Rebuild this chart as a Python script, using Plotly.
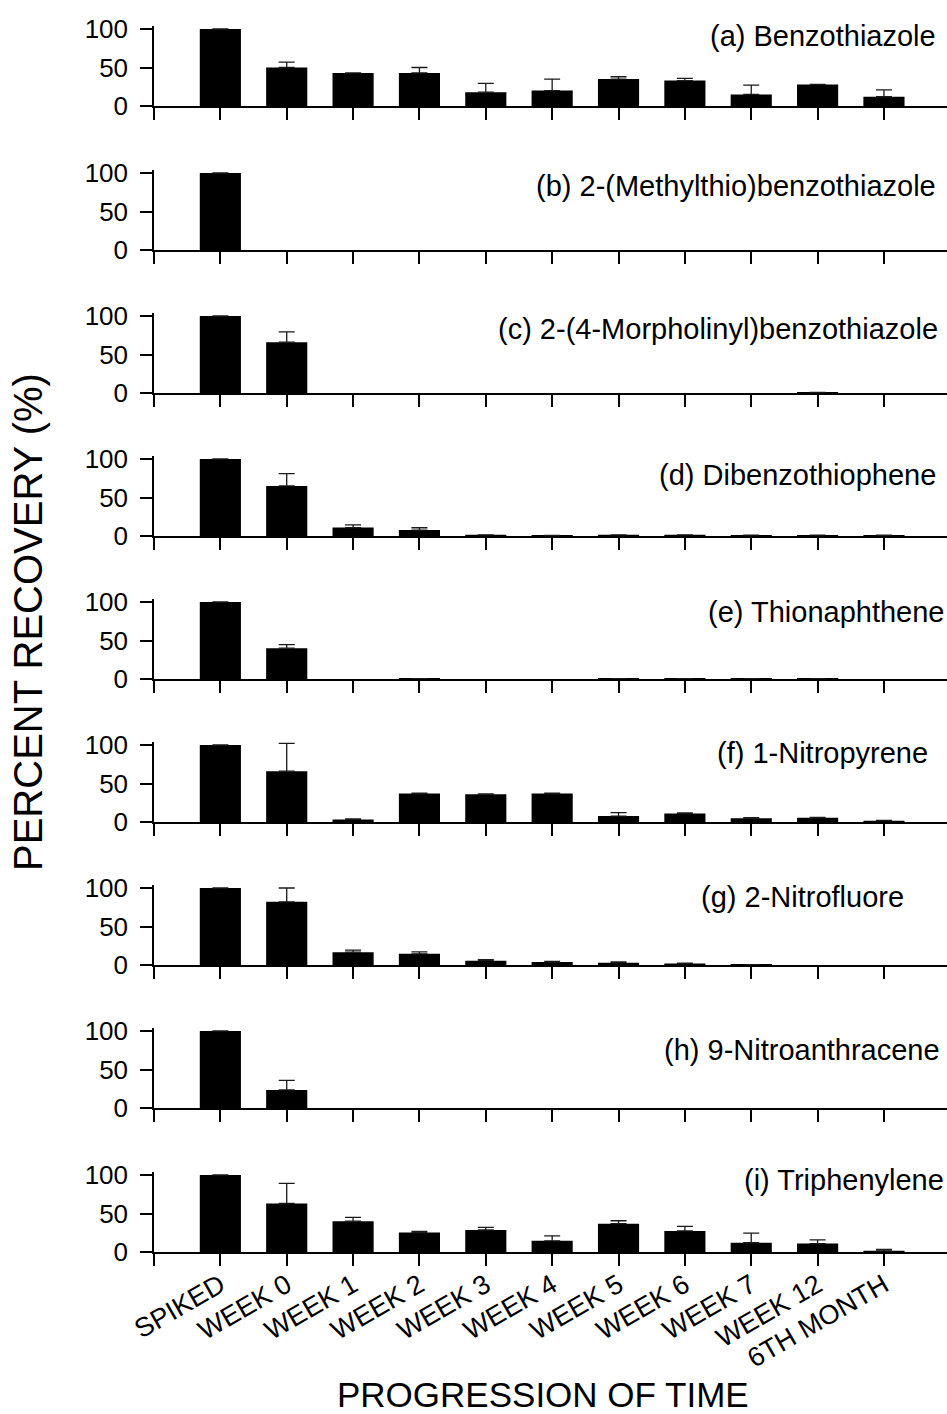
import plotly.graph_objects as go
from plotly.subplots import make_subplots

categories = ["SPIKED", "WEEK 0", "WEEK 1", "WEEK 2", "WEEK 3", "WEEK 4",
              "WEEK 5", "WEEK 6", "WEEK 7", "WEEK 12", "6TH MONTH"]

titles = ["(a) Benzothiazole", "(b) 2-(Methylthio)benzothiazole",
          "(c) 2-(4-Morpholinyl)benzothiazole", "(d) Dibenzothiophene",
          "(e) Thionaphthene", "(f) 1-Nitropyrene", "(g) 2-Nitrofluore",
          "(h) 9-Nitroanthracene", "(i) Triphenylene"]

benzothiazole = [100, 50, 43, 43, 18, 20, 35, 33, 15, 28, 12]
benzothiazole_err = [0, 7, 0, 7, 11.5, 15, 3, 3, 12, 0, 9]

methylthio_btz = [100, 0, 0, 0, 0, 0, 0, 0, 0, 0, 0]
methylthio_btz_err = [0, 0, 0, 0, 0, 0, 0, 0, 0, 0, 0]

morpholinyl_btz = [100, 66, 0, 0, 0, 0, 0, 0, 0, 0.8, 0]
morpholinyl_btz_err = [0, 13.5, 0, 0, 0, 0, 0, 0, 0, 0, 0]

dibenzothiophene = [100, 65, 11, 7.7, 1.5, 0.8, 1.5, 1.5, 1.2, 1.2, 1.0]
dibenzothiophene_err = [0, 16, 3.5, 3, 0, 0, 0, 0, 0, 0, 0]

thionaphthene = [100, 40, 0, 0.5, 0, 0, 0.5, 0.5, 0.5, 0.5, 0]
thionaphthene_err = [0, 4.7, 0, 0, 0, 0, 0, 0, 0, 0, 0]

nitropyrene = [100, 66, 3.4, 37, 36, 37, 7.7, 11, 5, 5.5, 1.7]
nitropyrene_err = [0, 36, 0.5, 0.5, 0.5, 0.5, 4.6, 0.8, 0.5, 0.5, 0.3]

nitrofluore = [100, 82, 16.7, 14.5, 5.6, 3.8, 3, 2, 0.5, 0, 0]
nitrofluore_err = [0, 18, 2.5, 2.5, 1.5, 1, 1, 0.5, 0, 0, 0]

nitroanthracene = [100, 23.5, 0, 0, 0, 0, 0, 0, 0, 0, 0]
nitroanthracene_err = [0, 12.5, 0, 0, 0, 0, 0, 0, 0, 0, 0]

triphenylene = [100, 63, 40, 25.2, 28.6, 14.5, 36.8, 27.4, 12, 11, 1.5]
triphenylene_err = [0, 26, 5, 1.5, 3.4, 6.4, 3.8, 6, 12.4, 4.7, 2]

series = [benzothiazole, methylthio_btz, morpholinyl_btz, dibenzothiophene,
          thionaphthene, nitropyrene, nitrofluore, nitroanthracene, triphenylene]
errors = [benzothiazole_err, methylthio_btz_err, morpholinyl_btz_err,
          dibenzothiophene_err, thionaphthene_err, nitropyrene_err,
          nitrofluore_err, nitroanthracene_err, triphenylene_err]

yticks = [0, 50, 100]

# layout / style
W, H = 947, 1414
L = 154
FONT = "Liberation Sans, Arial, Helvetica, sans-serif"
zero_px = [106, 250, 393, 536, 679, 822, 965, 1108, 1252]
px_per_100 = 77
ymax = 104
label_right_px = [938, 938, 940, 938, 946, 930, 906, 942, 946]
label_y_px = [36, 186, 329, 475, 612, 753, 897, 1050, 1180]

n = len(series)
fig = make_subplots(rows=n, cols=1)

xpos = list(range(len(categories)))
for i in range(n):
    yvals = [v if v > 0 else None for v in series[i]]
    err_plus = [e if e > 0 else None for e in errors[i]]
    err_minus = [0 if e > 0 else None for e in errors[i]]
    fig.add_trace(go.Bar(
        x=xpos, y=yvals, width=0.62,
        marker=dict(color="black", line=dict(width=0)),
        error_y=dict(type="data", symmetric=False, array=err_plus,
                     arrayminus=err_minus,
                     color="#1a1a1a", thickness=1.3, width=8),
        showlegend=False,
    ), row=i + 1, col=1)

for i in range(n):
    z = zero_px[i]
    top = z - px_per_100 * ymax / 100
    dom = [1 - z / H, 1 - top / H]
    last = (i == n - 1)
    xa = dict(domain=[0, 1], range=[-1, 10.95], automargin=False,
              tickvals=[-1] + xpos,
              ticktext=[""] + categories,
              showticklabels=last, tickangle=-30,
              ticks="outside", ticklen=12, tickwidth=1.5, tickcolor="black",
              showline=True, linecolor="black", linewidth=2,
              showgrid=False, zeroline=False, ticklabelstandoff=-7,
              tickfont=dict(family=FONT, size=27, color="black"))
    ya = dict(domain=dom, range=[0, ymax], tickvals=yticks, automargin=False,
              ticks="outside", ticklen=12, tickwidth=1.5, tickcolor="black",
              showline=True, linecolor="black", linewidth=1.5,
              showgrid=False, zeroline=False, ticklabelstandoff=7,
              tickfont=dict(family=FONT, size=26, color="black"))
    suffix = "" if i == 0 else str(i + 1)
    fig.layout["xaxis" + suffix].update(xa)
    fig.layout["yaxis" + suffix].update(ya)

annotations = []
for i in range(n):
    annotations.append(dict(
        text=titles[i], xref="paper", yref="paper",
        x=(label_right_px[i] - L) / (W - L), y=1 - label_y_px[i] / H,
        xanchor="right", yanchor="middle", showarrow=False,
        font=dict(family=FONT, size=29, color="black")))

annotations.append(dict(
    text="PERCENT RECOVERY (%)", xref="paper", yref="paper",
    x=(28 - L) / (W - L), y=1 - 622 / H, textangle=-90,
    xanchor="center", yanchor="middle", showarrow=False,
    font=dict(family=FONT, size=40, color="black")))
annotations.append(dict(
    text="PROGRESSION OF TIME", xref="paper", yref="paper",
    x=(543 - L) / (W - L), y=1 - 1394 / H,
    xanchor="center", yanchor="middle", showarrow=False,
    font=dict(family=FONT, size=35, color="black")))

fig.update_layout(
    width=W, height=H,
    margin=dict(l=L, r=0, t=0, b=0, autoexpand=False),
    plot_bgcolor="white", paper_bgcolor="white",
    bargap=0.38,
    annotations=annotations,
)

fig.write_html("out.html")
